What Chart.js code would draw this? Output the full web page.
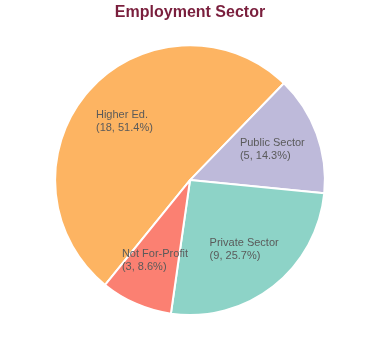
<!DOCTYPE html>
<html>
<head>
<meta charset="utf-8">
<script src="https://cdn.jsdelivr.net/npm/chart.js@4"></script>
<style>
  body { margin: 0; background: #fff; }
</style>
</head>
<body>
<canvas id="myChart" width="380" height="360"></canvas>
<script>
// datos del gráfico
const sectores = ['Higher Ed.', 'Public Sector', 'Private Sector', 'Not For-Profit'];
const cantidades = [18, 5, 9, 3];
const colores = ['#FDB462', '#BEBADA', '#8DD3C7', '#FB8072'];

const total = cantidades.reduce((a, b) => a + b, 0);

// etiquetas dentro de cada porción
const etiquetasPlugin = {
  id: 'etiquetas',
  afterDatasetsDraw(chart) {
    const ctx = chart.ctx;
    const meta = chart.getDatasetMeta(0);
    ctx.save();
    ctx.font = '11px "Liberation Sans", Arial, sans-serif';
    ctx.fillStyle = '#5a5a5a';
    ctx.textBaseline = 'middle';
    ctx.textAlign = 'left';
    meta.data.forEach(function (arc, i) {
      const p = arc.getProps(['x', 'y', 'startAngle', 'endAngle', 'outerRadius'], true);
      const medio = (p.startAngle + p.endAngle) / 2;
      const r = p.outerRadius * 0.65;
      const cx = p.x + Math.cos(medio) * r;
      const cy = p.y + Math.sin(medio) * r;
      const pct = (cantidades[i] / total * 100).toFixed(1);
      const lineas = [sectores[i], '(' + cantidades[i] + ', ' + pct + '%)'];
      const ancho = Math.max(...lineas.map(t => ctx.measureText(t).width));
      const x0 = cx - ancho / 2;
      ctx.fillText(lineas[0], x0, cy - 6.5);
      ctx.fillText(lineas[1], x0, cy + 6.5);
    });
    ctx.restore();
  }
};

const ctx = document.getElementById('myChart');

new Chart(ctx, {
  type: 'pie',
  data: {
    labels: sectores,
    datasets: [{
      data: cantidades,
      backgroundColor: colores,
      borderColor: '#ffffff',
      borderWidth: 2
    }]
  },
  options: {
    responsive: false,
    animation: false,
    rotation: -141,
    layout: { padding: { top: 0, bottom: 44, left: 0, right: 0 } },
    plugins: {
      legend: { display: false },
      tooltip: { enabled: false },
      title: {
        display: true,
        text: 'Employment Sector',
        color: '#7A1F3D',
        font: { family: '"Liberation Sans", Arial, sans-serif', size: 16, weight: 'bold' },
        padding: { top: 3, bottom: 22 }
      }
    }
  },
  plugins: [etiquetasPlugin]
});
</script>
</body>
</html>
